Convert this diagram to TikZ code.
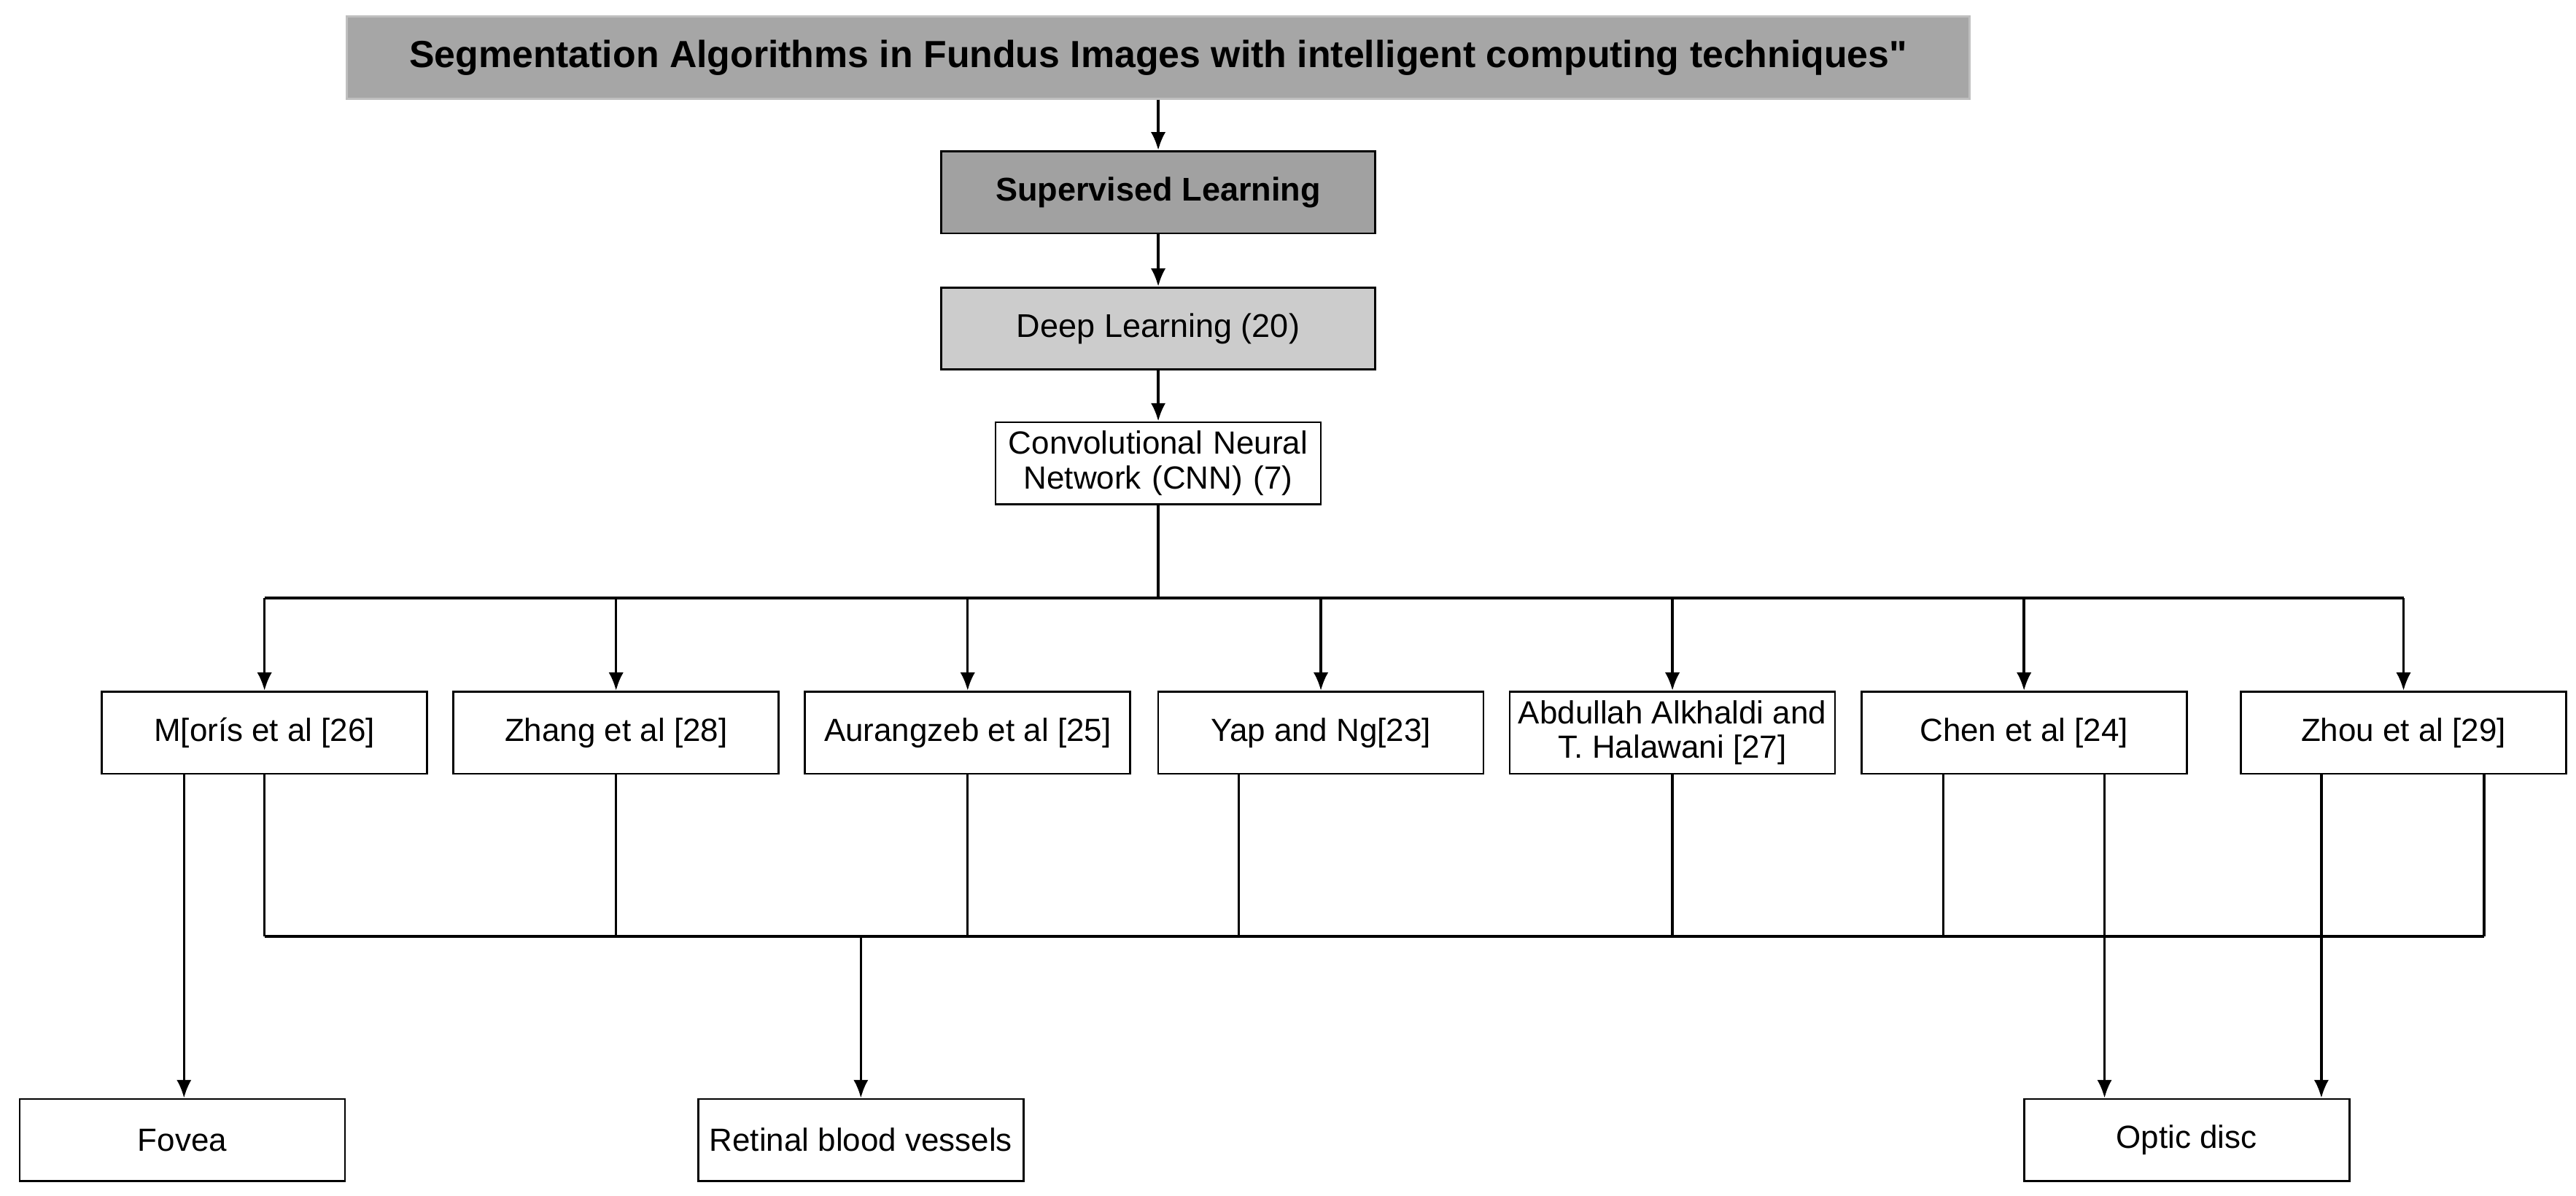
\documentclass[tikz,border=0pt]{standalone}
\usepackage{fontspec}
\setmainfont{Liberation Sans}
\usetikzlibrary{arrows.meta}
\begin{document}
\begin{tikzpicture}[x=1pt,y=-1pt,
  box/.style={draw,line width=1.2pt,minimum width=198pt,minimum height=50pt,inner sep=1pt,font=\fontsize{19.5}{21}\selectfont,align=center},
  ln/.style={line width=1.5pt},
  ar/.style={ln,-{Latex[length=11pt,width=9pt]}}]
\useasboundingbox (0,0) rectangle (1568,728);
\node[box,fill=black!35,draw=black!25,minimum width=988pt,font=\fontsize{23}{25}\selectfont\bfseries] (t) at (705,35) {Segmentation Algorithms in Fundus Images with intelligent computing techniques\textquotedbl};
\node[box,fill=black!37,minimum width=264pt,font=\fontsize{20}{22}\selectfont\bfseries] (s) at (705,117) {Supervised Learning};
\node[box,fill=black!20,minimum width=264pt,font=\fontsize{20}{22}\selectfont] (d) at (705,200) {Deep Learning (20)};
\node[box,text width=196pt] (c) at (705,282) {Convolutional Neural\\Network (CNN) (7)};
\node[box] (m1) at (161,446) {M[orís et al [26]};
\node[box] (m2) at (375,446) {Zhang et al [28]};
\node[box] (m3) at (589,446) {Aurangzeb et al [25]};
\node[box] (m4) at (804,446) {Yap and Ng[23]};
\node[box] (m5) at (1018,446) {Abdullah Alkhaldi and\\T. Halawani [27]};
\node[box] (m6) at (1232,446) {Chen et al [24]};
\node[box] (m7) at (1463,446) {Zhou et al [29]};
\node[box] (f) at (111,694) {Fovea};
\node[box] (r) at (524,694) {Retinal blood vessels};
\node[box] (o) at (1331,694) {Optic disc};
\coordinate (top) at (705,364);
\coordinate (bot) at (524,570);
\draw[ar] (t) -- (s);
\draw[ar] (s) -- (d);
\draw[ar] (d) -- (c);
\draw[ln] (c) -- (top);
\draw[ln] (m1.north |- top) -- (m7.north |- top);
\foreach \n in {m1,m2,m3,m4,m5,m6,m7} \draw[ar] (\n.north |- top) -- (\n);
\draw[ln] (m1.south |- bot) -- ([xshift=49pt]m7.south |- bot);
\foreach \n/\s in {m1/0,m2/0,m3/0,m4/-50,m5/0,m6/-49,m7/49}
  \draw[ln] ([xshift=\s pt]\n.south) -- ([xshift=\s pt]\n.south |- bot);
\draw[ar] (bot) -- (r);
\draw[ar] ([xshift=-49pt]m1.south) -- ([xshift=-49pt]m1.south |- f.north);
\draw[ar] ([xshift=49pt]m6.south) -- ([xshift=49pt]m6.south |- o.north);
\draw[ar] ([xshift=-50pt]m7.south) -- ([xshift=-50pt]m7.south |- o.north);
\end{tikzpicture}
\end{document}
